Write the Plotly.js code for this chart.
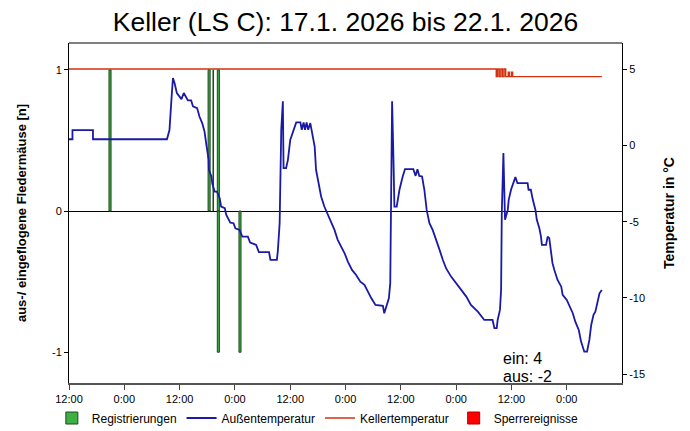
<!DOCTYPE html>
<html>
<head>
<meta charset="utf-8">
<script src="https://cdn.plot.ly/plotly-3.0.1.min.js"></script>
<style>
  html, body { margin: 0; padding: 0; background: #fff; }
  #chart { width: 690px; height: 431px; }
</style>
</head>
<body>
<div id="chart"></div>
<script>
// ---- Data (hours after 17.1.2026 12:00) ----
const startTime = '2026-01-17 12:00';

const outsideHours = [
  0,0.75,0.75,5.2,5.2,21.25,21.8,22.0,22.2,22.55,
  22.9,23.4,24.4,24.9,25.8,26.5,26.9,27.8,28.3,28.9,
  29.4,29.8,30.3,30.35,30.9,31.1,31.6,32.1,32.7,33.0,
  33.8,34.1,35.0,35.7,36.1,37.0,37.6,38.8,39.3,40.6,
  41.2,43.4,43.7,45.1,45.3,45.7,46.05,46.4,46.55,47.1,
  47.5,48.0,48.7,49.3,50.2,50.5,50.9,51.2,51.55,51.9,
  52.35,52.8,53.3,53.6,54.1,54.7,55.4,56.2,56.9,57.6,
  58.3,59.1,59.8,60.5,61.4,62.3,63.2,64.1,64.8,65.6,
  66.5,68.1,68.4,68.9,69.4,69.7,69.9,70.1,70.4,70.6,
  71.1,71.7,72.4,72.9,74.7,75.2,75.6,76.0,76.6,77.1,
  77.6,78.2,78.9,79.7,80.4,81.1,81.8,82.9,84.0,85.1,
  86.2,87.2,88.7,90.1,91.9,92.3,92.8,93.0,93.5,93.75,
  93.9,94.25,94.4,94.6,95.2,95.4,95.9,96.4,96.85,97.3,
  99.5,99.7,100.2,100.6,101.2,101.5,102.05,102.4,102.6,103.5,
  103.85,104.2,104.6,104.9,105.3,106.0,106.8,107.1,108.0,108.6,
  109.3,109.85,110.6,111.1,111.8,112.4,112.9,113.3,113.8,114.2,
  114.7,115.1,115.6
];
const outsideTemp = [
  0.4,0.4,1.0,1.0,0.4,0.4,1.0,2.55,2.88,4.41,
  4.08,3.43,3.03,3.43,2.94,2.94,2.55,2.44,1.89,1.46,
  0.91,0.04,-0.95,-1.6,-2.04,-2.52,-3.03,-3.03,-3.46,-4.01,
  -4.11,-4.55,-5.06,-5.1,-5.43,-5.54,-5.98,-5.98,-6.37,-6.52,
  -7.0,-7.0,-7.5,-7.5,-6.96,-5.1,1.02,2.88,-1.49,-1.49,
  -0.95,0.36,1.02,1.5,1.5,1.02,1.5,1.02,1.5,1.02,
  1.46,0.69,-0.08,-1.6,-2.48,-3.35,-4.01,-4.55,-5.1,-5.54,
  -6.19,-6.63,-7.07,-7.62,-8.16,-8.49,-8.93,-9.14,-9.58,-10.02,
  -10.46,-10.52,-11.0,-10.57,-10.02,-9.03,-2.91,2.88,-0.95,-4.01,
  -4.01,-2.91,-2.04,-1.56,-1.56,-2.0,-1.56,-2.0,-2.04,-2.91,
  -4.23,-5.1,-5.54,-6.19,-6.85,-7.5,-8.05,-8.6,-9.03,-9.47,
  -9.91,-10.46,-10.9,-11.44,-11.44,-11.98,-11.98,-11.44,-10.78,-9.47,
  -4.44,-0.51,-3.57,-4.88,-4.23,-3.57,-2.91,-2.48,-2.08,-2.48,
  -2.48,-2.91,-2.91,-3.52,-4.23,-4.88,-5.43,-5.98,-6.52,-6.52,
  -5.98,-6.08,-6.85,-7.72,-8.16,-8.82,-9.26,-9.8,-10.13,-10.57,
  -11.0,-11.55,-12.1,-12.86,-13.52,-13.52,-12.75,-11.77,-11.11,-10.9,
  -10.24,-9.69,-9.47
];

const cellarHours = [0, 92.7, 93.0, 93.35, 93.7, 94.05, 94.4, 94.75, 95.3, 95.55, 96.0, 96.25, 115.6];
const cellarTemp  = [5, 4.5, 5, 4.5, 5, 4.5, 5, 4.5, 4.8, 4.5, 4.8, 4.5, 4.5];

const einHours  = [8.9, 30.4, 31.3, 32.4];
const einValues = [1, 1, 1, 1];
const ausHours  = [32.4, 37.1];
const ausValues = [-1, -1];

// no lock events in this period (legend entry only)
const sperreHours  = [0];
const sperreValues = [null];

const leftTicks  = [-1, 0, 1];
const rightTicks = [-15, -10, -5, 0, 5];

// ---- helpers ----
const startMs = Date.UTC(2026, 0, 17, 12, 0, 0);
function toDate(h) {
  const d = new Date(startMs + Math.round(h * 3600000));
  return d.toISOString().slice(0, 19).replace('T', ' ');
}
const sum = a => a.reduce((s, v) => s + v, 0);

const H = 3600000;
const barW = 0.45 * H;
const thinW = 0.12 * H;

const traces = [
  {
    type: 'bar', name: 'Registrierungen', legendgroup: 'reg',
    x: einHours.map(toDate), y: einValues, yaxis: 'y',
    width: [barW, barW, thinW, barW],
    marker: { color: ['#3cb043', '#3cb043', '#1a2a1a', '#3cb043'], line: { color: '#1e4a1e', width: 1 } }
  },
  {
    type: 'bar', name: 'Registrierungen', legendgroup: 'reg', showlegend: false,
    x: ausHours.map(toDate), y: ausValues, yaxis: 'y',
    width: [barW, barW],
    marker: { color: '#3cb043', line: { color: '#1e4a1e', width: 1 } }
  },
  {
    type: 'scatter', mode: 'lines', name: 'Außentemperatur',
    x: outsideHours.map(toDate), y: outsideTemp, yaxis: 'y2',
    line: { color: '#1a1aa6', width: 1.8 }
  },
  {
    type: 'scatter', mode: 'lines', name: 'Kellertemperatur',
    x: cellarHours.map(toDate), y: cellarTemp, yaxis: 'y2',
    line: { color: '#d2320f', width: 1.4, shape: 'hv' }
  },
  {
    type: 'bar', name: 'Sperrereignisse',
    x: sperreHours.map(toDate), y: sperreValues, yaxis: 'y',
    marker: { color: '#ff0000', line: { color: '#b00000', width: 1 } }
  }
];

const layout = {
  width: 690, height: 431,
  margin: { l: 69, r: 68, t: 43, b: 48, pad: 0, autoexpand: false },
  paper_bgcolor: '#ffffff', plot_bgcolor: '#ffffff',
  font: { family: 'Liberation Sans, Arial, sans-serif', size: 11, color: '#000' },
  title: {
    text: 'Keller (LS C): 17.1. 2026 bis 22.1. 2026',
    font: { size: 26.5, color: '#000' },
    x: 0.5, xref: 'paper', xanchor: 'center',
    y: 0.95, yref: 'container', yanchor: 'middle'
  },
  barmode: 'overlay',
  showlegend: true,
  legend: {
    orientation: 'h', x: 0.45, xanchor: 'center', y: -0.103, yanchor: 'middle',
    font: { size: 12 }, bgcolor: 'rgba(0,0,0,0)', traceorder: 'normal'
  },
  xaxis: {
    type: 'date',
    range: [toDate(0), toDate(119.98)],
    tick0: startTime, dtick: 12 * H, tickformat: '%-H:%M',
    ticks: 'outside', ticklen: 5, tickcolor: '#444', tickwidth: 1,
    showline: true, linecolor: '#555', linewidth: 2,
    showgrid: false, zeroline: false,
    tickfont: { size: 11 }
  },
  yaxis: {
    range: [-1.218, 1.19],
    tickvals: leftTicks, ticktext: leftTicks.map(String),
    ticks: 'outside', ticklen: 4, tickcolor: '#000',
    showline: true, linecolor: '#000', linewidth: 1,
    zeroline: true, zerolinecolor: '#000', zerolinewidth: 1,
    showgrid: false,
    title: { text: 'aus-/ eingeflogene Fledermäuse [n]', font: { size: 13, weight: 'bold' }, standoff: 22 }
  },
  yaxis2: {
    overlaying: 'y', side: 'right',
    range: [-15.57, 6.705],
    tickvals: rightTicks, ticktext: rightTicks.map(String),
    ticks: 'outside', ticklen: 4, tickcolor: '#000',
    showline: true, linecolor: '#000', linewidth: 1,
    zeroline: false, showgrid: false,
    title: { text: 'Temperatur in °C', font: { size: 14, weight: 'bold' }, standoff: 20 }
  },
  shapes: [
    { type: 'line', xref: 'paper', yref: 'paper', x0: 0, x1: 1, y0: 1, y1: 1, line: { color: '#000', width: 1 } }
  ],
  annotations: [
    { xref: 'paper', yref: 'paper', x: 0.781, y: 0.0735, xanchor: 'left', yanchor: 'middle',
      text: 'ein: ' + sum(einValues), showarrow: false, font: { size: 16 } },
    { xref: 'paper', yref: 'paper', x: 0.781, y: 0.0185, xanchor: 'left', yanchor: 'middle',
      text: 'aus: ' + sum(ausValues), showarrow: false, font: { size: 16 } }
  ]
};

Plotly.newPlot('chart', traces, layout, { displayModeBar: false, staticPlot: true });
</script>
</body>
</html>
